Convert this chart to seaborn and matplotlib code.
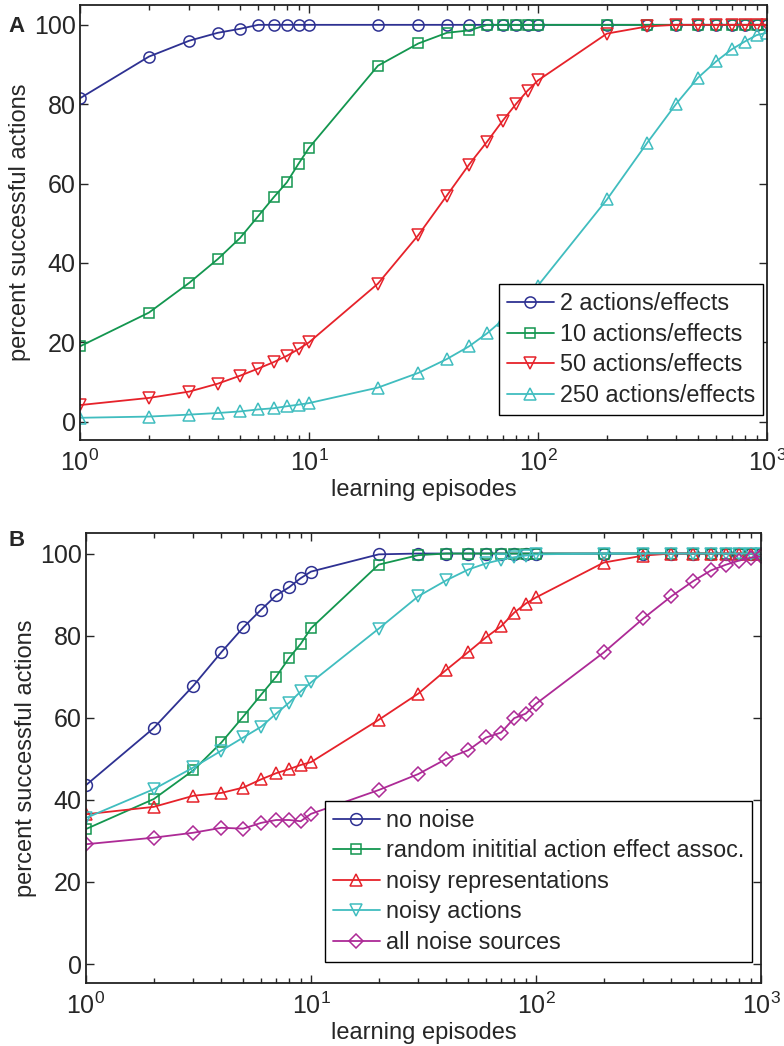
import numpy as np
import pandas as pd
import matplotlib
matplotlib.use('Agg')
import matplotlib.pyplot as plt
import seaborn as sns

# learning episodes (x values shared by all curves)
episodes = [1, 2, 3, 4, 5, 6, 7, 8, 9, 10,
            20, 30, 40, 50, 60, 70, 80, 90, 100,
            200, 300, 400, 500, 600, 700, 800, 900, 1000]

# Panel A: number of actions/effects
a_2 = [81.5, 92, 96, 98, 99, 100, 100, 100, 100, 100,
       100, 100, 100, 100, 100, 100, 100, 100, 100,
       100, 100, 100, 100, 100, 100, 100, 100, 100]
a_10 = [19, 27.5, 35, 41, 46.3, 51.8, 56.5, 60.3, 65, 69,
        89.7, 95.3, 98, 98.6, 100, 100, 100, 100, 100,
        100, 100, 100, 100, 100, 100, 100, 100, 100]
a_50 = [4.2, 6, 7.6, 9.6, 11.6, 13.4, 15, 16.6, 18.3, 20,
        34.8, 47, 57, 64.8, 70.6, 75.8, 80, 83.4, 86,
        97.8, 99.6, 100, 100, 100, 100, 100, 100, 100]
a_250 = [1, 1.3, 1.8, 2.2, 2.6, 3.1, 3.4, 3.9, 4.3, 4.7,
         8.6, 12.3, 15.8, 19, 22.3, 25.6, 28.5, 31.5, 34.3,
         56, 70.3, 80, 86.7, 90.8, 93.8, 95.8, 97.4, 98]

# Panel B: noise conditions
b_none = [43.6, 57.5, 67.8, 76, 82, 86.3, 89.8, 91.8, 94, 95.6,
          99.8, 100, 100, 100, 100, 100, 100, 100, 100,
          100, 100, 100, 100, 100, 100, 100, 100, 100]
b_random = [32.9, 40.2, 47.2, 54, 60.3, 65.6, 70, 74.6, 78, 81.8,
            97.3, 99.6, 100, 100, 100, 100, 100, 100, 100,
            100, 100, 100, 100, 100, 100, 100, 100, 100]
b_repr = [36.5, 38.3, 41, 41.7, 43, 45, 46.5, 47.5, 48.5, 49.2,
          59.5, 65.9, 71.7, 76, 79.6, 82.3, 85.6, 87.8, 89.3,
          97.8, 99.5, 100, 100, 100, 100, 100, 100, 100]
b_actions = [35.6, 42.6, 47.9, 52, 55.2, 57.8, 61, 63.7, 66.4, 68.6,
             81.7, 89.6, 93.5, 96.1, 97.6, 98.5, 99.1, 99.5, 99.8,
             100, 100, 100, 100, 100, 100, 100, 100, 100]
b_all = [29.2, 30.8, 32, 33.2, 33, 34.4, 35.1, 35.1, 34.8, 36.6,
         42.4, 46.3, 50, 52.1, 55.2, 56.4, 59.9, 61, 63.4,
         75.9, 84.2, 89.6, 93.3, 95.9, 97.3, 98.3, 99, 99.3]

labels_a = ['2 actions/effects', '10 actions/effects',
            '50 actions/effects', '250 actions/effects']
labels_b = ['no noise', 'random inititial action effect assoc.',
            'noisy representations', 'noisy actions', 'all noise sources']

c_blue = '#2e3192'
c_green = '#13964f'
c_red = '#e6222a'
c_cyan = '#40bdbf'
c_mag = '#ad2a96'

sns.set_style('ticks')
plt.rcParams['font.family'] = ['Liberation Sans', 'DejaVu Sans']
plt.rcParams['mathtext.default'] = 'regular'

fig = plt.figure(figsize=(7.84, 10.46), dpi=100)
W, H = 784, 1046
axA = fig.add_axes([80 / W, 1 - 440 / H, (767 - 80) / W, (440 - 5) / H])
axB = fig.add_axes([86 / W, 1 - 983 / H, (761 - 86) / W, (983 - 533) / H])


def draw(ax, series, labels, colors, markers, msizes):
    for y, lab, col, mk, ms in zip(series, labels, colors, markers, msizes):
        df = pd.DataFrame({'episodes': episodes, 'percent': y})
        sns.lineplot(data=df, x='episodes', y='percent', ax=ax, color=col,
                     marker=mk, markersize=ms, mfc='none', mec=col, mew=1.1,
                     linewidth=1.3, label=lab)
    ax.set_xscale('log')
    ax.set_xlim(1, 1000)
    ax.set_ylim(-4.6, 105)
    ax.set_yticks([0, 20, 40, 60, 80, 100])
    ax.set_xlabel('learning episodes', fontsize=17, labelpad=2)
    ax.set_ylabel('percent successful actions', fontsize=17, labelpad=2)
    ax.tick_params(which='both', direction='in', top=True, right=True,
                   labelsize=18, width=1.0)
    ax.tick_params(which='major', length=6)
    ax.tick_params(axis='y', which='major', pad=3)
    ax.tick_params(axis='x', which='major', pad=7)
    ax.tick_params(which='minor', length=3.5)
    for s in ax.spines.values():
        s.set_linewidth(1.3)
        s.set_color('#222222')


draw(axA, [a_2, a_10, a_50, a_250], labels_a,
     [c_blue, c_green, c_red, c_cyan], ['o', 's', 'v', '^'], [8, 7, 8, 8])
draw(axB, [b_none, b_random, b_repr, b_actions, b_all], labels_b,
     [c_blue, c_green, c_red, c_cyan, c_mag], ['o', 's', '^', 'v', 'D'],
     [8.5, 7, 8.5, 8.5, 7])

for ax, anchor, sp in [(axA, (763 / W, 1 - 415 / H), 0.32),
                       (axB, (752 / W, 1 - 962 / H), 0.32)]:
    leg = ax.legend(loc='lower right', bbox_to_anchor=anchor,
                    bbox_transform=fig.transFigure, borderaxespad=0,
                    fontsize=16.8, fancybox=False, framealpha=1,
                    edgecolor='black', handlelength=2.0, handletextpad=0.25,
                    labelspacing=sp, borderpad=0.35)
    leg.get_frame().set_linewidth(1.0)

fig.text(8 / W, 1 - 26 / H, 'A', fontsize=16, fontweight='bold', va='center')
fig.text(8 / W, 1 - 540 / H, 'B', fontsize=16, fontweight='bold', va='center')

fig.savefig('out.png', dpi=100)
